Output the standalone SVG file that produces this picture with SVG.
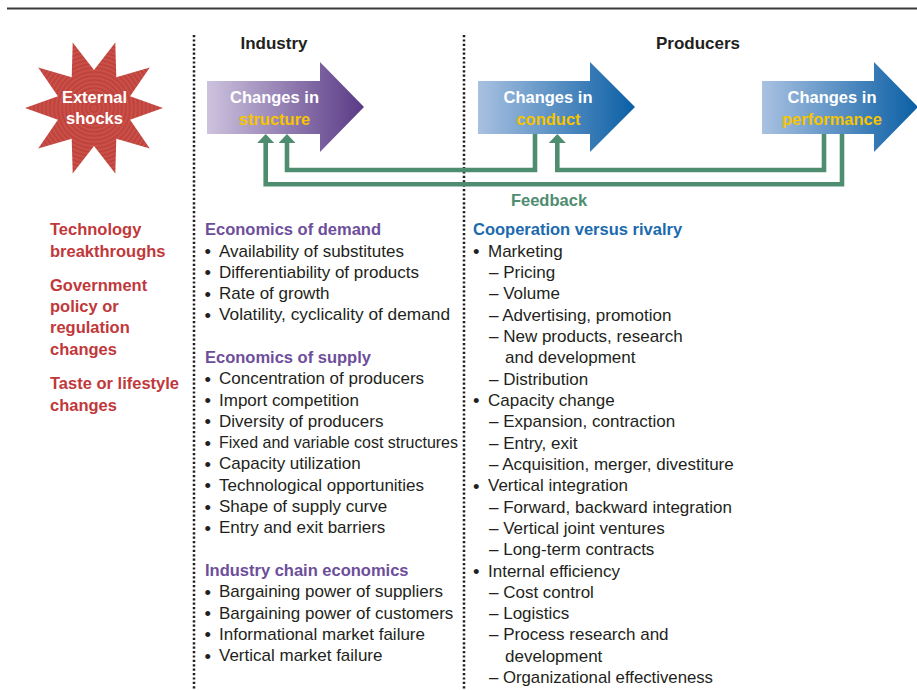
<svg xmlns="http://www.w3.org/2000/svg" width="917" height="690" viewBox="0 0 917 690">
<style>
text{font-family:"Liberation Sans",Arial,Helvetica,sans-serif}
.b{font-size:17px;fill:#231f20}
.bu{font-size:18.5px}
.h{font-size:16.5px;font-weight:bold}
.pu{fill:#6d4e9b}
.bl{fill:#1b6aae}
.rd{fill:#c1383b}
.wt{fill:#ffffff;font-size:16.5px;font-weight:bold;text-anchor:middle}
.yl{fill:#f7c400;font-size:16.5px;font-weight:bold;text-anchor:middle}
.top{fill:#231f20;font-size:17px;font-weight:bold;text-anchor:middle}
.dot{stroke:#231f20;stroke-width:2.5;stroke-dasharray:2.2 2.2;fill:none}
.fb{fill:none;stroke:#4f8d70;stroke-width:4.6;stroke-linejoin:miter;marker-end:url(#ah)}
</style>
<defs>
<linearGradient id="gp" gradientUnits="userSpaceOnUse" x1="207" y1="0" x2="364" y2="0">
<stop offset="0" stop-color="#cdc3de"/><stop offset="1" stop-color="#5a3a86"/>
</linearGradient>
<linearGradient id="gb1" gradientUnits="userSpaceOnUse" x1="478" y1="0" x2="635" y2="0">
<stop offset="0" stop-color="#a9c1e1"/><stop offset="1" stop-color="#0a5fa5"/>
</linearGradient>
<linearGradient id="gb2" gradientUnits="userSpaceOnUse" x1="762" y1="0" x2="918" y2="0">
<stop offset="0" stop-color="#a9c1e1"/><stop offset="1" stop-color="#0a5fa5"/>
</linearGradient>
<radialGradient id="gs" gradientUnits="userSpaceOnUse" cx="94" cy="108" r="4" spreadMethod="repeat">
<stop offset="0" stop-color="#bf3f39"/><stop offset="0.5" stop-color="#c9544c"/><stop offset="1" stop-color="#bf3f39"/>
</radialGradient>
<marker id="ah" markerUnits="userSpaceOnUse" viewBox="0 0 9 17" markerWidth="9" markerHeight="17" refX="1" refY="8.5" orient="auto">
<path d="M0,0 L9,8.5 L0,17 Z" fill="#4f8d70"/>
</marker>
</defs>
<rect x="0" y="0" width="917" height="690" fill="#ffffff"/>
<line x1="7" y1="8.5" x2="917" y2="8.5" stroke="#3a3a3a" stroke-width="2"/>
<g id="dividers">
<line class="dot" x1="194" y1="35" x2="194" y2="690"/>
<line class="dot" x1="464" y1="35" x2="464" y2="690"/>
</g>
<g id="external-shocks">
<polygon fill="url(#gs)" points="163,108 130.1,96.3 149.8,67.4 116.3,77.3 115.3,42.4 94,70 72.7,42.4 71.7,77.3 38.2,67.4 57.9,96.3 25,108 57.9,119.7 38.2,148.6 71.7,138.7 72.7,173.6 94,146 115.3,173.6 116.3,138.7 149.8,148.6 130.1,119.7"/>
<text class="wt" x="94.5" y="103" font-size="16">External</text>
<text class="wt" x="94.5" y="124">shocks</text>
</g>
<g id="headers">
<text class="top" x="274" y="49">Industry</text>
<text class="top" x="698" y="49">Producers</text>
</g>
<g id="structure">
<polygon fill="url(#gp)" points="207,81 320,81 320,62 364,107 320,152 320,134 207,134"/>
<text class="wt" x="274.5" y="103">Changes in</text>
<text class="yl" x="274.5" y="125">structure</text>
</g>
<g id="conduct">
<polygon fill="url(#gb1)" points="478,81 590,81 590,62 635,107 590,152 590,134 478,134"/>
<text class="wt" x="548" y="103">Changes in</text>
<text class="yl" x="548.5" y="125">conduct</text>
</g>
<g id="performance">
<polygon fill="url(#gb2)" points="762,81 874,81 874,62 918,107 874,152 874,134 762,134"/>
<text class="wt" x="832" y="103">Changes in</text>
<text class="yl" x="832" y="125">performance</text>
</g>
<g id="connectors">
<path class="fb" d="M842,134 V184.3 H265.7 V142"/>
<path class="fb" d="M535,134 V170 H287 V142"/>
<path class="fb" d="M824,134 V170 H557.3 V142"/>
<text x="549" y="206" text-anchor="middle" class="h" fill="#4f8d70">Feedback</text>
</g>
<g id="shocks-list" class="h rd">
<text x="50" y="235">Technology</text>
<text x="50" y="256.5">breakthroughs</text>
<text x="50" y="291">Government</text>
<text x="50" y="312">policy or</text>
<text x="50" y="333">regulation</text>
<text x="50" y="354.5">changes</text>
<text x="50" y="389">Taste or lifestyle</text>
<text x="50" y="410.5">changes</text>
</g>
<g id="industry-list">
<text x="205" y="235" class="h pu">Economics of demand</text>
<text x="205" y="363" class="h pu">Economics of supply</text>
<text x="205" y="576" class="h pu">Industry chain economics</text>
<g class="b">
<text><tspan class="bu" x="204.5" y="258">•</tspan><tspan x="219" y="256.5">Availability of substitutes</tspan></text>
<text><tspan class="bu" x="204.5" y="279.3">•</tspan><tspan x="219" y="277.8">Differentiability of products</tspan></text>
<text><tspan class="bu" x="204.5" y="300.6">•</tspan><tspan x="219" y="299.1">Rate of growth</tspan></text>
<text><tspan class="bu" x="204.5" y="321.9">•</tspan><tspan x="219" y="320.4" textLength="231" lengthAdjust="spacingAndGlyphs">Volatility, cyclicality of demand</tspan></text>
<text><tspan class="bu" x="204.5" y="385.7">•</tspan><tspan x="219" y="384.2">Concentration of producers</tspan></text>
<text><tspan class="bu" x="204.5" y="407">•</tspan><tspan x="219" y="405.5">Import competition</tspan></text>
<text><tspan class="bu" x="204.5" y="428.3">•</tspan><tspan x="219" y="426.8">Diversity of producers</tspan></text>
<text><tspan class="bu" x="204.5" y="449.6">•</tspan><tspan x="219" y="448.1" textLength="239" lengthAdjust="spacingAndGlyphs">Fixed and variable cost structures</tspan></text>
<text><tspan class="bu" x="204.5" y="470.9">•</tspan><tspan x="219" y="469.4">Capacity utilization</tspan></text>
<text><tspan class="bu" x="204.5" y="492.2">•</tspan><tspan x="219" y="490.7">Technological opportunities</tspan></text>
<text><tspan class="bu" x="204.5" y="513.5">•</tspan><tspan x="219" y="512">Shape of supply curve</tspan></text>
<text><tspan class="bu" x="204.5" y="534.8">•</tspan><tspan x="219" y="533.3">Entry and exit barriers</tspan></text>
<text><tspan class="bu" x="204.5" y="598.8">•</tspan><tspan x="219" y="597.3">Bargaining power of suppliers</tspan></text>
<text><tspan class="bu" x="204.5" y="620.1">•</tspan><tspan x="219" y="618.6">Bargaining power of customers</tspan></text>
<text><tspan class="bu" x="204.5" y="641.4">•</tspan><tspan x="219" y="639.9">Informational market failure</tspan></text>
<text><tspan class="bu" x="204.5" y="662.7">•</tspan><tspan x="219" y="661.2">Vertical market failure</tspan></text>
</g>
</g>
<g id="producers-list">
<text x="473" y="235" class="h bl">Cooperation versus rivalry</text>
<g class="b">
<text><tspan class="bu" x="473" y="258">•</tspan><tspan x="488" y="256.5">Marketing</tspan></text>
<text x="489" y="277.8">– Pricing</text>
<text x="489" y="299.2">– Volume</text>
<text x="489" y="320.5">– Advertising, promotion</text>
<text x="489" y="341.8">– New products, research</text>
<text x="505" y="363.2">and development</text>
<text x="489" y="384.5">– Distribution</text>
<text><tspan class="bu" x="473" y="407.3">•</tspan><tspan x="488" y="405.8">Capacity change</tspan></text>
<text x="489" y="427.1">– Expansion, contraction</text>
<text x="489" y="448.5">– Entry, exit</text>
<text x="489" y="469.8">– Acquisition, merger, divestiture</text>
<text><tspan class="bu" x="473" y="492.6">•</tspan><tspan x="488" y="491.1">Vertical integration</tspan></text>
<text x="489" y="512.5">– Forward, backward integration</text>
<text x="489" y="533.8">– Vertical joint ventures</text>
<text x="489" y="555.1">– Long-term contracts</text>
<text><tspan class="bu" x="473" y="578">•</tspan><tspan x="488" y="576.5">Internal efficiency</tspan></text>
<text x="489" y="597.8">– Cost control</text>
<text x="489" y="619.1">– Logistics</text>
<text x="489" y="640.4">– Process research and</text>
<text x="505" y="661.8">development</text>
<text x="489" y="683.1" textLength="224" lengthAdjust="spacingAndGlyphs">– Organizational effectiveness</text>
</g>
</g>
</svg>
